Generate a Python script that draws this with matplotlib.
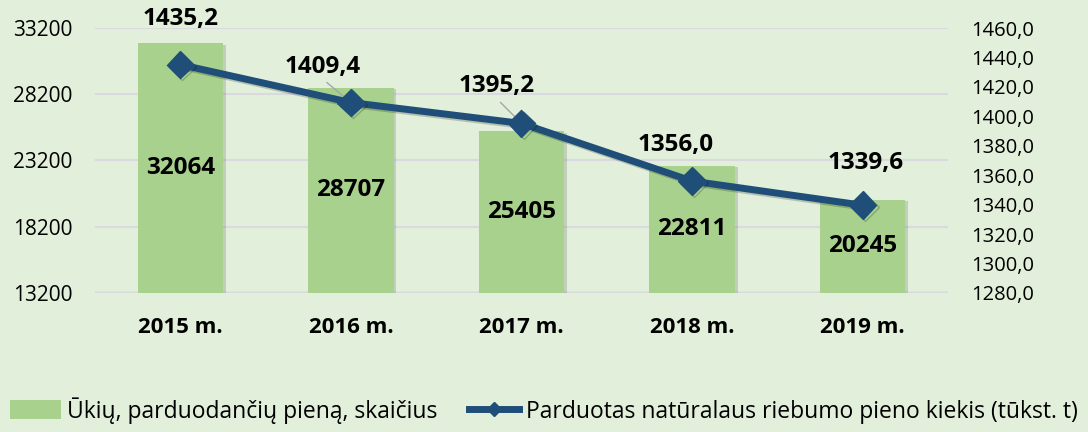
import matplotlib.pyplot as plt
import matplotlib.patheffects as pe
from matplotlib.lines import Line2D
from matplotlib.patches import Patch

plt.rcParams['font.family'] = ['Open Sans', 'DejaVu Sans']

# data
years = ["2015 m.", "2016 m.", "2017 m.", "2018 m.", "2019 m."]
farms = [32064, 28707, 25405, 22811, 20245]
milk = [1435.2, 1409.4, 1395.2, 1356.0, 1339.6]
milk_labels = ["1435,2", "1409,4", "1395,2", "1356,0", "1339,6"]
left_ticks = [13200, 18200, 23200, 28200, 33200]
right_ticks = [1280, 1300, 1320, 1340, 1360, 1380, 1400, 1420, 1440, 1460]

BG = "#e2efda"
BAR = "#a9d18e"
LINE = "#1f4e79"

fig = plt.figure(figsize=(10.88, 4.32), dpi=100, facecolor=BG)
ax = fig.add_axes([0.0873, 0.322, 0.784, 0.613])
ax.set_facecolor(BG)
x = list(range(len(years)))

bars = ax.bar(x, farms, width=0.5, color=BAR, zorder=2,
              path_effects=[pe.SimplePatchShadow(offset=(2, -1), alpha=0.18), pe.Normal()])
ax.set_ylim(13200, 33200)
ax.set_yticks(left_ticks)
ax.set_yticklabels([str(t) for t in left_ticks], fontsize=15)
ax.set_xlim(-0.5, 4.5)
ax.set_xticks(x)
ax.set_xticklabels(years, fontsize=16, fontweight='bold')
ax.tick_params(axis='x', length=0, pad=17)
ax.tick_params(axis='y', length=0, pad=16.5)
ax.grid(axis='y', color="#d9d9e0", linewidth=1.5, zorder=0)
for s in ax.spines.values():
    s.set_visible(False)
ax.axhline(13200, color="#d0d0d0", linewidth=2.5, zorder=1)

for xi, v in zip(x, farms):
    ax.text(xi, (13200 + v) / 2, str(v), ha='center', va='center',
            fontsize=17.5, fontweight='bold', zorder=4)

ax2 = ax.twinx()
ax2.set_ylim(1280, 1460)
ax2.set_yticks(right_ticks)
ax2.set_yticklabels([f"{t},0" for t in right_ticks], fontsize=14.5)
ax2.tick_params(axis='y', length=0, pad=16.5)
for s in ax2.spines.values():
    s.set_visible(False)
ax2.plot(x, milk, color=LINE, linewidth=5, marker='D', markersize=14, zorder=5,
         path_effects=[pe.SimpleLineShadow(offset=(1.5, -1.5), alpha=0.2), pe.Normal()])

offsets = [(0, 46), (-28, 36), (-25, 37), (-16, 36), (3, 42)]
for i, (xi, v) in enumerate(zip(x, milk)):
    dx, dy = offsets[i]
    ax2.annotate(milk_labels[i], (xi, v), xytext=(dx, dy), textcoords='offset pixels',
                 ha='center', va='center', fontsize=17.5, fontweight='bold', zorder=6)
# leader lines
for i in (1, 2):
    dx, dy = offsets[i]
    ax2.annotate("", (x[i], milk[i]), xytext=(dx + 4, dy - 16), textcoords='offset pixels',
                 arrowprops=dict(arrowstyle='-', color='#a6a6a6', lw=1, shrinkA=0, shrinkB=4))

handles = [Patch(facecolor=BAR, edgecolor='none'),
           Line2D([0], [0], color=LINE, linewidth=5, marker='D', markersize=7)]
fig.legend(handles, ["Ūkių, parduodančių pieną, skaičius",
                     "Parduotas natūralaus riebumo pieno kiekis (tūkst. t)"],
           loc='center', bbox_to_anchor=(0.5, 0.05), ncol=2, frameon=False,
           fontsize=16.5, handlelength=2.2, handleheight=0.9, columnspacing=1.35,
           handletextpad=0.3, borderpad=0.1, borderaxespad=0)

fig.savefig("out.png", dpi=100, facecolor=BG)
